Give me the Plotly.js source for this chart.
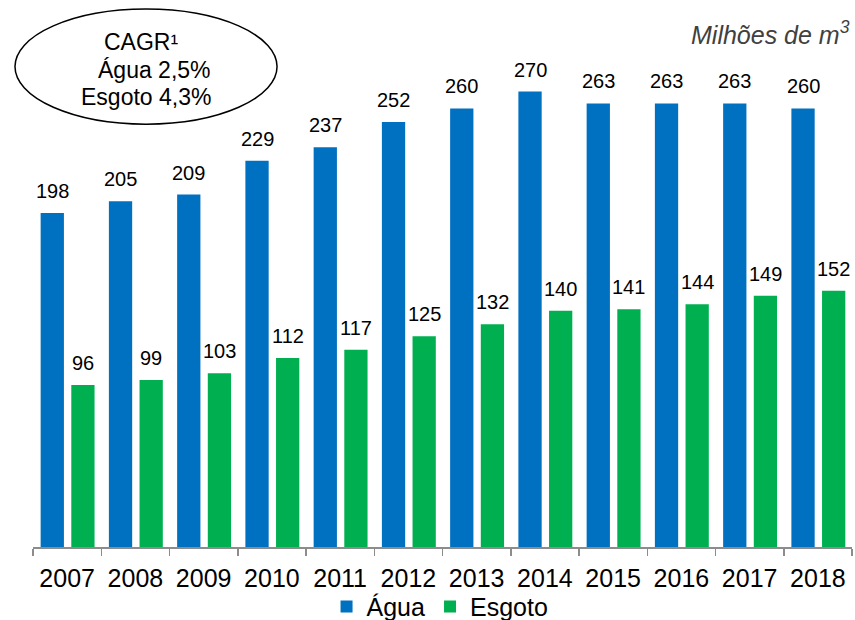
<!DOCTYPE html>
<html>
<head>
<meta charset="utf-8">
<script src="https://cdn.plot.ly/plotly-3.0.1.min.js"></script>
<style>html,body{margin:0;padding:0;background:#fff;}#chart{width:855px;height:620px;}</style>
</head>
<body>
<div id="chart"></div>
<script>
// ---- data ----
const years = ['2007','2008','2009','2010','2011','2012','2013','2014','2015','2016','2017','2018'];
const agua = [198, 205, 209, 229, 237, 252, 260, 270, 263, 263, 263, 260];
const esgoto = [96, 99, 103, 112, 117, 125, 132, 140, 141, 144, 149, 152];
const seriesNames = ['Água', 'Esgoto'];
const cagrLines = ['CAGR¹', 'Água 2,5%', 'Esgoto 4,3%'];
const unitLabel = 'Milhões de m<sup>3</sup>';

// ---- styles ----
const FONT = 'Arial, "Liberation Sans", sans-serif';
const BLUE = '#0070C0', GREEN = '#00B050';
const barW = 0.341, offBlue = -0.388, offGreen = 0.061;
const catPx = 68.25;

const traces = [
  {type:'bar', name:seriesNames[0], x:years, y:agua, marker:{color:BLUE, line:{width:0}}, width:barW, offset:offBlue, hoverinfo:'skip'},
  {type:'bar', name:seriesNames[1], x:years, y:esgoto, marker:{color:GREEN, line:{width:0}}, width:barW, offset:offGreen, hoverinfo:'skip'}
];

const ann = [];
function addLabels(vals, off){
  const shift = (off + barW/2) * catPx;
  vals.forEach((v,i)=>{
    ann.push({x:i, y:v, xref:'x', yref:'y', text:String(v), showarrow:false,
      xanchor:'center', yanchor:'bottom', xshift:shift, yshift:9,
      font:{family:FONT, size:20, color:'#000'}});
  });
}
addLabels(agua, offBlue);
addLabels(esgoto, offGreen);

// ellipse texts
ann.push({x:0.0842, y:0.996, xref:'paper', yref:'paper', text:cagrLines[0], showarrow:false, xanchor:'left', yanchor:'middle', font:{family:FONT,size:23,color:'#000'}});
ann.push({x:0.2198, y:0.940, xref:'paper', yref:'paper', text:cagrLines[1], showarrow:false, xanchor:'right', yanchor:'middle', font:{family:FONT,size:23,color:'#000'}});
ann.push({x:0.2198, y:0.8876, xref:'paper', yref:'paper', text:cagrLines[2], showarrow:false, xanchor:'right', yanchor:'middle', font:{family:FONT,size:23,color:'#000'}});
// unit label
ann.push({x:1.0, y:1.014, xref:'paper', yref:'paper', text:unitLabel, showarrow:false, xanchor:'right', yanchor:'middle', font:{family:FONT,size:25,color:'#404040', style:'italic'}});

const layout = {
  width:855, height:620,
  margin:{l:33, r:3, t:40, b:73, pad:0, autoexpand:false},
  paper_bgcolor:'#fff', plot_bgcolor:'#fff',
  font:{family:FONT, color:'#000'},
  barmode:'group',
  showlegend:true,
  legend:{orientation:'h', x:0.497, xanchor:'center', y:-0.118, yanchor:'middle', font:{family:FONT,size:25,color:'#000'}, bgcolor:'rgba(0,0,0,0)', itemwidth:30, tracegroupgap:0},
  xaxis:{type:'category', range:[-0.5, years.length-0.5], autorange:false, automargin:false, tickangle:0, showline:true, linecolor:'#8c8c8c', linewidth:1.5, ticks:'outside', tickson:'boundaries', ticklen:7, tickwidth:1.5, tickcolor:'#8c8c8c', ticklabelstandoff:8, showgrid:false, zeroline:false, tickfont:{family:FONT,size:25,color:'#000'}, fixedrange:true},
  yaxis:{visible:false, range:[0,300.6], autorange:false, automargin:false, showgrid:false, zeroline:false, fixedrange:true},
  shapes:[{type:'circle', xref:'paper', yref:'paper', x0:-0.022, x1:0.298, y0:0.834, y1:1.061, line:{color:'#000', width:1.5}, fillcolor:'rgba(0,0,0,0)'}],
  annotations:ann
};

Plotly.newPlot('chart', traces, layout, {displayModeBar:false, staticPlot:true});
</script>
</body>
</html>
